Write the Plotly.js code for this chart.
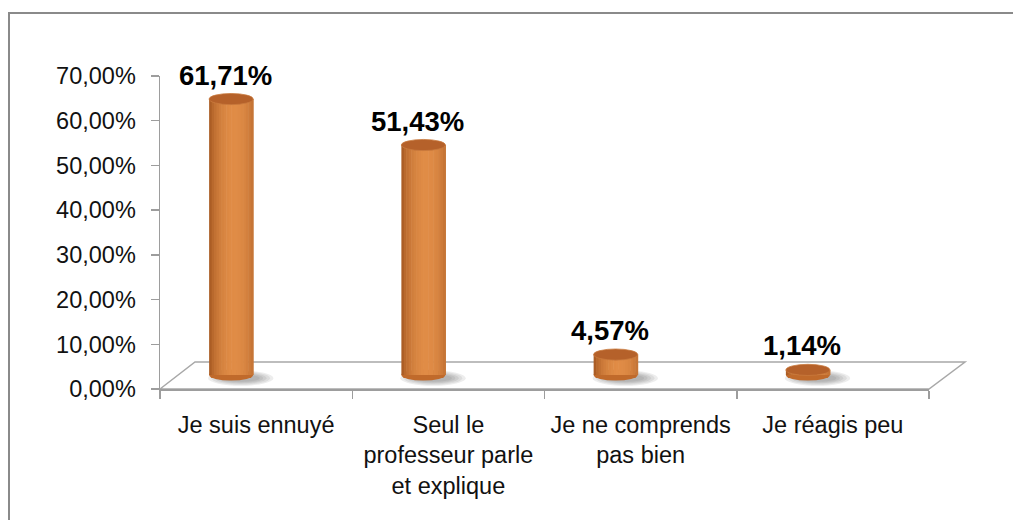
<!DOCTYPE html>
<html>
<head>
<meta charset="utf-8">
<script src="https://cdn.plot.ly/plotly-3.0.1.min.js"></script>
<style>
  html, body { margin: 0; padding: 0; background: #fff; }
  #chart { width: 1013px; height: 520px; }
</style>
</head>
<body>
<div id="chart"></div>
<script>
// ---- data ----
const categories = ["Je suis ennuyé", "Seul le<br>professeur parle<br>et explique", "Je ne comprends<br>pas bien", "Je réagis peu"];
const values = [61.71, 51.43, 4.57, 1.14];
const yTickValues = [0, 10, 20, 30, 40, 50, 60, 70];
const yTickLabels = ["0,00%", "10,00%", "20,00%", "30,00%", "40,00%", "50,00%", "60,00%", "70,00%"];

// ---- style ----
const FONT = "Liberation Sans, Arial, sans-serif";
const AXIS_GREY = "#9d9d9d";
const N_STRIPES = 18;
const barW = 0.229;       // bar width in category units
const barC = -0.13;       // bar centre offset from category centre (3D depth effect)
const capH = 1.25;        // half height of the ellipse caps, in axis units
const dark = [150, 74, 24], light = [224, 140, 70];

function shade(t) {
  const f = Math.pow(Math.max(0, Math.cos((t - 0.57) * Math.PI / 1.16)), 0.55);
  const c = dark.map((d, i) => Math.round(d + (light[i] - d) * f));
  return `rgb(${c[0]},${c[1]},${c[2]})`;
}

const traces = [];
// invisible carrier so the main value axis is drawn
traces.push({
  type: "scatter", mode: "markers", x: categories, y: values, yaxis: "y",
  marker: { opacity: 0, size: 1 }, hoverinfo: "skip", showlegend: false
});
for (let k = 0; k < N_STRIPES; k++) {
  const t = (k + 0.5) / N_STRIPES;
  traces.push({
    type: "bar",
    x: categories,
    y: values,
    yaxis: "y2",
    offset: barC - barW / 2 + k * barW / N_STRIPES,
    width: barW / N_STRIPES + 0.003,
    marker: { color: shade(t), line: { width: 0 } },
    hoverinfo: "skip",
    showlegend: false
  });
}

const shapes = [];
// outer chart border
shapes.push({
  type: "rect", xref: "paper", yref: "paper",
  x0: (9 - 160) / 769, x1: (1030 - 160) / 769,
  y0: (389 - 540) / 313, y1: (389 - 13) / 313,
  line: { color: "#8a8a8a", width: 2 }, fillcolor: "rgba(0,0,0,0)", layer: "below"
});
// 3D floor
shapes.push({
  type: "path", xref: "paper", yref: "paper",
  path: `M 0 0 L ${35 / 769} ${27 / 313} L ${805 / 769} ${27 / 313} L 1 0 Z`,
  line: { color: "#a8a8a8", width: 1.5 }, fillcolor: "rgba(0,0,0,0)", layer: "below"
});

const annotations = [];
values.forEach((v, i) => {
  const cx = i + barC;
  // soft shadow on the floor
  for (let s = 0; s < 5; s++) {
    const wx = 0.17 - s * 0.018, wy = 1.7 - s * 0.22;
    shapes.push({
      type: "circle", xref: "x", yref: "y2", layer: "below",
      x0: cx + 0.05 - wx, x1: cx + 0.05 + wx,
      y0: -0.7 - wy, y1: -0.7 + wy,
      fillcolor: "rgba(90,90,90,0.11)", line: { width: 0 }
    });
  }
  // rounded bottom
  shapes.push({
    type: "circle", xref: "x", yref: "y2", layer: "below",
    x0: cx - barW / 2, x1: cx + barW / 2,
    y0: -capH, y1: capH,
    fillcolor: "#c06a2b", line: { width: 0 }
  });
  // top cap
  shapes.push({
    type: "circle", xref: "x", yref: "y2", layer: "above",
    x0: cx - barW / 2, x1: cx + barW / 2,
    y0: v - capH, y1: v + capH,
    fillcolor: "#b5612a", line: { color: "#c97a3d", width: 0.8 }
  });
  annotations.push({
    xref: "x", yref: "y2", x: cx, y: v,
    xanchor: "center", yanchor: "middle", xshift: -6, yshift: 24,
    text: v.toFixed(2).replace(".", ",") + "%",
    showarrow: false,
    font: { family: FONT, size: 27.5, color: "#000", weight: "bold" }
  });
});

const shift = 14 / 313 * 70; // floor rise, in axis units

const layout = {
  width: 1013, height: 520,
  margin: { l: 160, r: 84, t: 76, b: 131, pad: 0 },
  paper_bgcolor: "#fff", plot_bgcolor: "#fff",
  separators: ", ",
  barmode: "overlay",
  showlegend: false,
  font: { family: FONT, color: "#111" },
  xaxis: {
    type: "category", categoryarray: categories, categoryorder: "array",
    range: [-0.5, 3.5], fixedrange: true,
    showline: true, linecolor: AXIS_GREY, linewidth: 1.5,
    ticks: "outside", ticklen: 8, tickcolor: AXIS_GREY, tickwidth: 1.5,
    tickson: "boundaries", showgrid: false, zeroline: false,
    ticklabelstandoff: 14,
    tickfont: { family: FONT, size: 23.5, color: "#111" }
  },
  yaxis: {
    range: [0, 70], tickmode: "array", tickvals: yTickValues, ticktext: yTickLabels,
    fixedrange: true,
    showline: true, linecolor: AXIS_GREY, linewidth: 1.5,
    ticks: "outside", ticklen: 8, tickcolor: AXIS_GREY, tickwidth: 1.5,
    ticklabelstandoff: 10,
    showgrid: false, zeroline: false,
    tickfont: { family: FONT, size: 23.5, color: "#111" }
  },
  yaxis2: {
    overlaying: "y", range: [-shift, 70 - shift], visible: false, fixedrange: true
  },
  shapes: shapes,
  annotations: annotations
};

Plotly.newPlot("chart", traces, layout, { displayModeBar: false, staticPlot: true });
</script>
</body>
</html>
